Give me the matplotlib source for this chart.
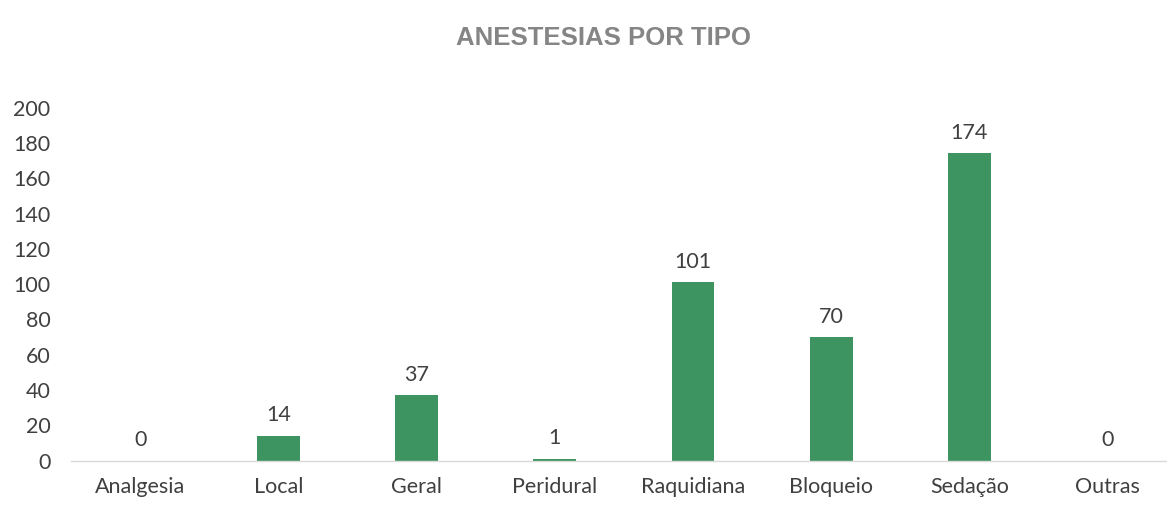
import matplotlib.pyplot as plt

# data
tipos = ['Analgesia', 'Local', 'Geral', 'Peridural', 'Raquidiana', 'Bloqueio', 'Sedação', 'Outras']
valores = [0, 14, 37, 1, 101, 70, 174, 0]
yticks = [0, 20, 40, 60, 80, 100, 120, 140, 160, 180, 200]

plt.rcParams['font.family'] = ['Lato', 'DejaVu Sans']

fig = plt.figure(figsize=(11.67, 5.12), dpi=100)
ax = fig.add_axes([0.061, 0.1, 0.939, 0.69])

x = list(range(len(tipos)))
bars = ax.bar(x, valores, width=0.31, color='#3d9460')

# value labels above bars
for xi, v in zip(x, valores):
    ax.text(xi, v + 6, str(v), ha='center', va='bottom', fontsize=15.5, color='#404040')

ax.set_xlim(-0.5, 7.43)
ax.set_ylim(0, 200)
ax.set_yticks(yticks)
ax.set_xticks(x)
ax.set_xticklabels(tipos)
ax.tick_params(axis='both', length=0, labelsize=15.5, colors='#404040')
ax.tick_params(axis='x', pad=12)
ax.tick_params(axis='y', pad=15)
for lbl in ax.get_yticklabels():
    lbl.set_horizontalalignment('right')

for s in ['top', 'right', 'left']:
    ax.spines[s].set_visible(False)
ax.spines['bottom'].set_color('#d9d9d9')
ax.spines['bottom'].set_linewidth(1)

fig.text(0.517, 0.925, 'ANESTESIAS POR TIPO', ha='center', va='center',
         fontsize=18.5, fontweight='bold', color='#858585', family='Liberation Sans')

fig.savefig('out.png', dpi=100)
